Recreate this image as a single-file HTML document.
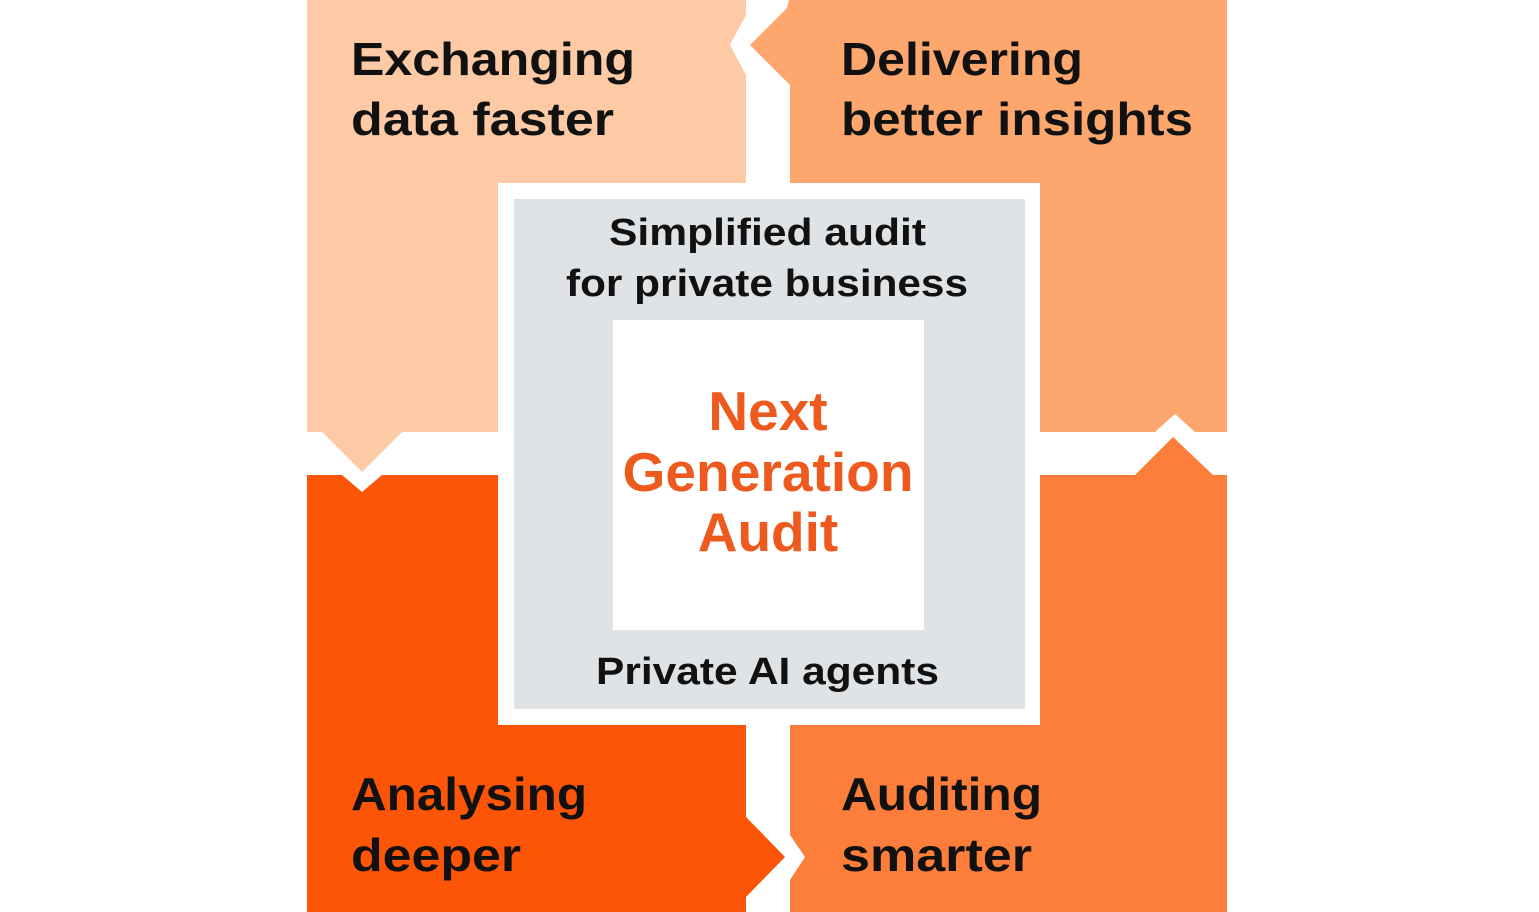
<!DOCTYPE html>
<html><head><meta charset="utf-8"><style>
html,body{margin:0;padding:0;background:#fff;}
svg{display:block;}
text{font-family:"Liberation Sans",Arial,sans-serif;font-weight:bold;}
</style></head><body>
<svg width="1539" height="912" viewBox="0 0 1539 912" xmlns="http://www.w3.org/2000/svg">
<rect width="1539" height="912" fill="#fff"/>
<!-- TL -->
<polygon points="307,0 746,0 746,15 730,45 746,75 746,432 402,432 362,472 322,432 307,432" fill="#fdcaa5"/>
<!-- TR -->
<polygon points="789,0 1227,0 1227,432 1195,432 1175,414 1155,432 790,432 790,85 750,45 787,8" fill="#fda66e"/>
<!-- BL -->
<polygon points="307,475 342,475 362,492 382,475 746,475 746,817 785,857 746,897 746,912 307,912" fill="#fc5507"/>
<!-- BR -->
<polygon points="790,475 1135,475 1173,437 1213,475 1227,475 1227,912 790,912 790,880 805,857 790,835" fill="#fd7d3a"/>
<!-- center -->
<rect x="498" y="183" width="542" height="542" fill="#fff"/>
<rect x="514" y="199" width="511" height="510" fill="#e0e3e6"/>
<rect x="613" y="320" width="311" height="310" fill="#fff"/>
<g fill="#111" font-size="46">
<text x="351" y="75" textLength="284" lengthAdjust="spacingAndGlyphs">Exchanging</text>
<text x="351" y="135" textLength="263" lengthAdjust="spacingAndGlyphs">data faster</text>
<text x="841" y="75" textLength="242" lengthAdjust="spacingAndGlyphs">Delivering</text>
<text x="841" y="135" textLength="352" lengthAdjust="spacingAndGlyphs">better insights</text>
<text x="351" y="810" textLength="236" lengthAdjust="spacingAndGlyphs">Analysing</text>
<text x="351" y="871" textLength="170" lengthAdjust="spacingAndGlyphs">deeper</text>
<text x="841" y="810" textLength="201" lengthAdjust="spacingAndGlyphs">Auditing</text>
<text x="841" y="871" textLength="191" lengthAdjust="spacingAndGlyphs">smarter</text>
</g>
<g fill="#111" font-size="38">
<text x="609" y="245" textLength="317" lengthAdjust="spacingAndGlyphs">Simplified audit</text>
<text x="566" y="296" textLength="402" lengthAdjust="spacingAndGlyphs">for private business</text>
<text x="596" y="684" textLength="343" lengthAdjust="spacingAndGlyphs">Private AI agents</text>
</g>
<g fill="#ee5a1e" font-size="55" text-anchor="middle">
<text x="768" y="430">Next</text>
<text x="768" y="491" textLength="291" lengthAdjust="spacingAndGlyphs">Generation</text>
<text x="768" y="551">Audit</text>
</g>
</svg>
</body></html>
